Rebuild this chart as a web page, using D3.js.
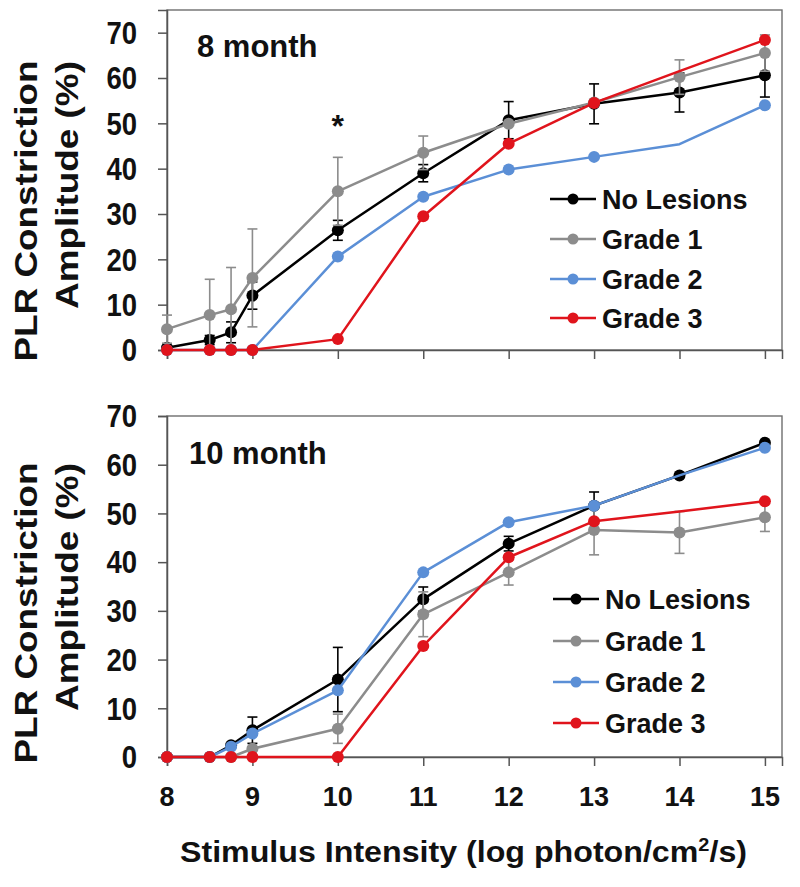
<!DOCTYPE html>
<html>
<head>
<meta charset="utf-8">
<script src="https://cdn.jsdelivr.net/npm/d3@7"></script>
<style>
  html, body { margin: 0; padding: 0; background: #fff; }
  svg { display: block; font-family: "Liberation Sans", Arial, sans-serif; }
</style>
</head>
<body>
<svg id="chart" width="800" height="887"></svg>
<script>
// ---------------- data ----------------
const xValues = [8, 8.5, 8.75, 9, 10, 11, 12, 13, 14, 15];
const xTickValues = [8, 9, 10, 11, 12, 13, 14, 15];
const yTickValues = [0, 10, 20, 30, 40, 50, 60, 70];
const seriesNames = ["No Lesions", "Grade 1", "Grade 2", "Grade 3"];
const seriesColors = ["#000000", "#8c8c8c", "#5b8fd6", "#e0141c"];
const hiddenMarkerX = { "Grade 2": [14], "Grade 3": [14] };

// 8 month
const noLesions8 = [0.5, 2.2, 3.9, 12.0, 26.4, 39.0, 50.7, 54.3, 56.8, 60.6];
const noLesions8Err = [0, 1.0, 2.3, 3.0, 2.2, 1.9, 4.1, 4.4, 4.3, 4.8];
const grade1_8 = [4.6, 7.7, 9.0, 15.9, 35.0, 43.5, 49.9, 54.6, 60.2, 65.5];
const grade1_8Err = [3.1, 7.9, 9.2, 10.8, 7.5, 3.7, 0, 0, 3.8, 4.0];
const grade2_8 = [0, 0, 0, 0, 20.6, 33.8, 39.8, 42.6, 45.4, 54.0];
const grade3_8 = [0, 0, 0, 0, 2.4, 29.5, 45.5, 54.5, 61.5, 68.4];

// 10 month
const noLesions10 = [0, 0, 2.4, 5.5, 15.9, 32.4, 43.8, 51.6, 57.8, 64.5];
const noLesions10Err = [0, 0, 0, 2.7, 6.6, 2.5, 1.5, 2.8, 0, 0];
const grade1_10 = [0, 0, 0, 1.7, 5.8, 29.3, 37.9, 46.6, 46.1, 49.2];
const grade1_10Err = [0, 0, 0, 0, 3.0, 4.6, 2.6, 5.1, 4.3, 2.9];
const grade2_10 = [0, 0, 2.1, 4.8, 13.7, 37.9, 48.2, 51.6, 57.8, 63.5];
const grade3_10 = [0, 0, 0, 0, 0, 22.8, 41.0, 48.4, 50.4, 52.5];

const panels = [
  { label: "8 month", yMax: 75, top: 10, bottom: 350, showXLabels: false,
    series: [noLesions8, grade1_8, grade2_8, grade3_8],
    errors: [noLesions8Err, grade1_8Err, null, null],
    star: { x: 10, text: "*" },
    labelPos: [197, 57], legendRows: [199, 239, 279, 318], legendX: 550,
    titleY: [211, 185] },
  { label: "10 month", yMax: 70, top: 416, bottom: 757, showXLabels: true,
    series: [noLesions10, grade1_10, grade2_10, grade3_10],
    errors: [noLesions10Err, grade1_10Err, null, null],
    star: null,
    labelPos: [189, 464], legendRows: [599, 641, 682, 723], legendX: 553,
    titleY: [613, 587] }
];

// ---------------- drawing ----------------
const svg = d3.select("#chart");
const left = 167, right = 782;
const x = d3.scaleLinear().domain([8, 15.2]).range([left, right]);

panels.forEach(p => {
  const y = d3.scaleLinear().domain([0, p.yMax]).range([p.bottom, p.top]);
  const g = svg.append("g");

  // frame
  g.append("rect")
    .attr("x", left).attr("y", p.top)
    .attr("width", right - left).attr("height", p.bottom - p.top)
    .attr("fill", "none").attr("stroke", "#6e6e6e").attr("stroke-width", 1.4);

  // y axis
  const yAxis = d3.axisLeft(y).tickValues(yTickValues).tickSize(9).tickFormat("");
  const ya = g.append("g").attr("transform", `translate(${left},0)`).call(yAxis);
  ya.select(".domain").attr("stroke", "#555").attr("stroke-width", 1.5);
  ya.selectAll(".tick line").attr("stroke", "#555").attr("stroke-width", 1.5);
  g.selectAll(".ylab").data(yTickValues).enter().append("text")
    .attr("transform", d => `translate(137,${y(d)}) scale(1,1.15)`)
    .attr("y", 9.8)
    .attr("text-anchor", "end")
    .attr("font-size", 27.5).attr("font-weight", "bold").attr("fill", "#111")
    .text(d => d);

  // x axis
  const xAxis = d3.axisBottom(x).tickValues(xTickValues).tickSize(9).tickFormat("");
  const xa = g.append("g").attr("transform", `translate(0,${p.bottom})`).call(xAxis);
  xa.select(".domain").attr("stroke", "#555").attr("stroke-width", 1.5);
  xa.selectAll(".tick line").attr("stroke", "#555").attr("stroke-width", 1.5);
  if (p.showXLabels) {
    g.selectAll(".xlab").data(xTickValues).enter().append("text")
      .attr("x", d => x(d)).attr("y", p.bottom + 49)
      .attr("text-anchor", "middle")
      .attr("font-size", 27).attr("font-weight", "bold").attr("fill", "#111")
      .text(d => d);
  }

  // y title
  const titleLines = ["PLR Constriction", "Amplitude (%)"];
  const titleX = [37, 78];
  titleLines.forEach((t, i) => {
    g.append("text")
      .attr("transform", `translate(${titleX[i]},${p.titleY[i]}) rotate(-90) scale(1.19,1)`)
      .attr("text-anchor", "middle")
      .attr("font-size", 31).attr("font-weight", "bold").attr("fill", "#111")
      .text(t);
  });

  // series
  const line = d3.line().x(d => x(d.x)).y(d => y(d.y));
  p.series.forEach((vals, si) => {
    const name = seriesNames[si];
    const color = seriesColors[si];
    const pts = xValues.map((xv, i) => ({ x: xv, y: vals[i], e: p.errors[si] ? p.errors[si][i] : 0 }));
    // error bars
    const eb = pts.filter(d => d.e > 0);
    const eg = g.append("g").attr("stroke", color).attr("stroke-width", 1.6);
    eg.selectAll(".ev").data(eb).enter().append("line")
      .attr("x1", d => x(d.x)).attr("x2", d => x(d.x))
      .attr("y1", d => y(d.y - d.e)).attr("y2", d => y(d.y + d.e));
    eg.selectAll(".et").data(eb).enter().append("line")
      .attr("x1", d => x(d.x) - 5).attr("x2", d => x(d.x) + 5)
      .attr("y1", d => y(d.y + d.e)).attr("y2", d => y(d.y + d.e));
    eg.selectAll(".eb").data(eb).enter().append("line")
      .attr("x1", d => x(d.x) - 5).attr("x2", d => x(d.x) + 5)
      .attr("y1", d => y(d.y - d.e)).attr("y2", d => y(d.y - d.e));
    // line
    g.append("path").datum(pts).attr("d", line)
      .attr("fill", "none").attr("stroke", color).attr("stroke-width", 2.5)
      .attr("stroke-linejoin", "round");
    // markers
    const hidden = hiddenMarkerX[name] || [];
    g.selectAll(null).data(pts.filter(d => !hidden.includes(d.x))).enter().append("circle")
      .attr("cx", d => x(d.x)).attr("cy", d => y(d.y)).attr("r", 6)
      .attr("fill", color);
  });

  // star
  if (p.star) {
    g.append("text").attr("x", x(p.star.x)).attr("y", 137)
      .attr("text-anchor", "middle").attr("font-size", 32).attr("font-weight", "bold")
      .attr("fill", "#111").text(p.star.text);
  }

  // panel label
  g.append("text").attr("x", p.labelPos[0]).attr("y", p.labelPos[1])
    .attr("font-size", 31).attr("font-weight", "bold").attr("fill", "#111")
    .text(p.label);

  // legend
  seriesNames.forEach((name, i) => {
    const ry = p.legendRows[i];
    g.append("line").attr("x1", p.legendX).attr("x2", p.legendX + 46)
      .attr("y1", ry).attr("y2", ry).attr("stroke", seriesColors[i]).attr("stroke-width", 2.5);
    g.append("circle").attr("cx", p.legendX + 23).attr("cy", ry).attr("r", 5.5)
      .attr("fill", seriesColors[i]);
    g.append("text").attr("x", p.legendX + 52).attr("y", ry + 10)
      .attr("font-size", 27).attr("font-weight", "bold").attr("fill", "#111")
      .text(name);
  });
});

// x title
svg.append("text")
  .attr("x", 180).attr("y", 862)
  .attr("font-size", 29).attr("font-weight", "bold").attr("fill", "#111")
  .attr("textLength", 567).attr("lengthAdjust", "spacingAndGlyphs")
  .call(t => {
    t.append("tspan").text("Stimulus Intensity (log photon/cm");
    t.append("tspan").attr("font-size", 18).attr("dy", -11).text("2");
    t.append("tspan").attr("dy", 11).text("/s)");
  });
</script>
</body>
</html>
